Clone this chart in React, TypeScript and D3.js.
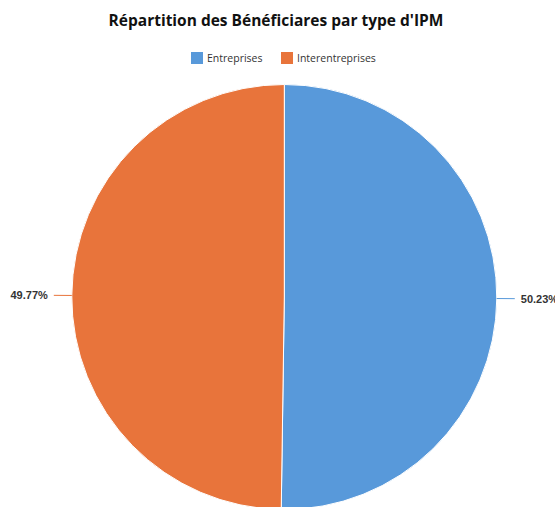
import React, { useEffect, useRef } from "react";
import * as d3 from "d3";

const categories = ["Entreprises", "Interentreprises"];
const shares = [50.23, 49.77];
const colors = ["#5899DA", "#E8743B"];

const width = 555;
const height = 507;

const App = () => {
  const ref = useRef<SVGSVGElement>(null);

  useEffect(() => {
    const svg = d3.select(ref.current);
    svg.selectAll("*").remove();

    const cx = 284.3;
    const cy = 297;
    const radius = 212.5;

    svg.append("text")
      .text("Répartition des Bénéficiares par type d'IPM")
      .attr("x", 276)
      .attr("y", 26)
      .attr("text-anchor", "middle")
      .style("font-family", "'Open Sans', sans-serif")
      .style("font-weight", "bold")
      .style("font-size", "15.5px")
      .style("fill", "#111");

    // legend
    const legendX = [191, 281];
    const legend = svg.append("g").attr("transform", "translate(0,52)");
    categories.forEach((c, i) => {
      legend.append("rect")
        .attr("x", legendX[i])
        .attr("y", 0)
        .attr("width", 12)
        .attr("height", 12)
        .attr("fill", colors[i]);
      legend.append("text")
        .text(c)
        .attr("x", legendX[i] + 16)
        .attr("y", 10)
        .style("font-family", "'Open Sans', sans-serif")
        .style("font-size", "10.5px")
        .style("fill", "#333");
    });

    const pie = d3.pie<number>().sort(null).value((d) => d);
    const arcs = pie(shares);
    const arc = d3.arc<d3.PieArcDatum<number>>().innerRadius(0).outerRadius(radius);

    const g = svg.append("g").attr("transform", "translate(" + cx + "," + cy + ")");
    g.selectAll("path")
      .data(arcs)
      .enter()
      .append("path")
      .attr("d", arc)
      .attr("fill", (d, i) => colors[i])
      .attr("stroke", "#fff")
      .attr("stroke-width", 1);

    // labels with leader lines
    arcs.forEach((a, i) => {
      const mid = (a.startAngle + a.endAngle) / 2;
      const sx = Math.sin(mid);
      const sy = -Math.cos(mid);
      const p1 = [sx * radius, sy * radius];
      const p2 = [sx * (radius + 18), sy * (radius + 18)];
      g.append("line")
        .attr("x1", p1[0]).attr("y1", p1[1])
        .attr("x2", p2[0]).attr("y2", p2[1])
        .attr("stroke", colors[i])
        .attr("stroke-width", 1);
      g.append("text")
        .text(shares[i].toFixed(2) + "%")
        .attr("x", p2[0] + (sx > 0 ? 6 : -6))
        .attr("y", p2[1] + 4)
        .attr("text-anchor", sx > 0 ? "start" : "end")
        .style("font-family", "'Liberation Sans Narrow', 'Liberation Sans', sans-serif")
        .style("font-weight", "bold")
        .style("font-size", "11px")
        .style("fill", "#333");
    });
  }, []);

  return (
    <svg
      ref={ref}
      width={width}
      height={height}
      style={{ position: "absolute", left: 0, top: 0, background: "#fff" }}
    />
  );
};

export default App;
